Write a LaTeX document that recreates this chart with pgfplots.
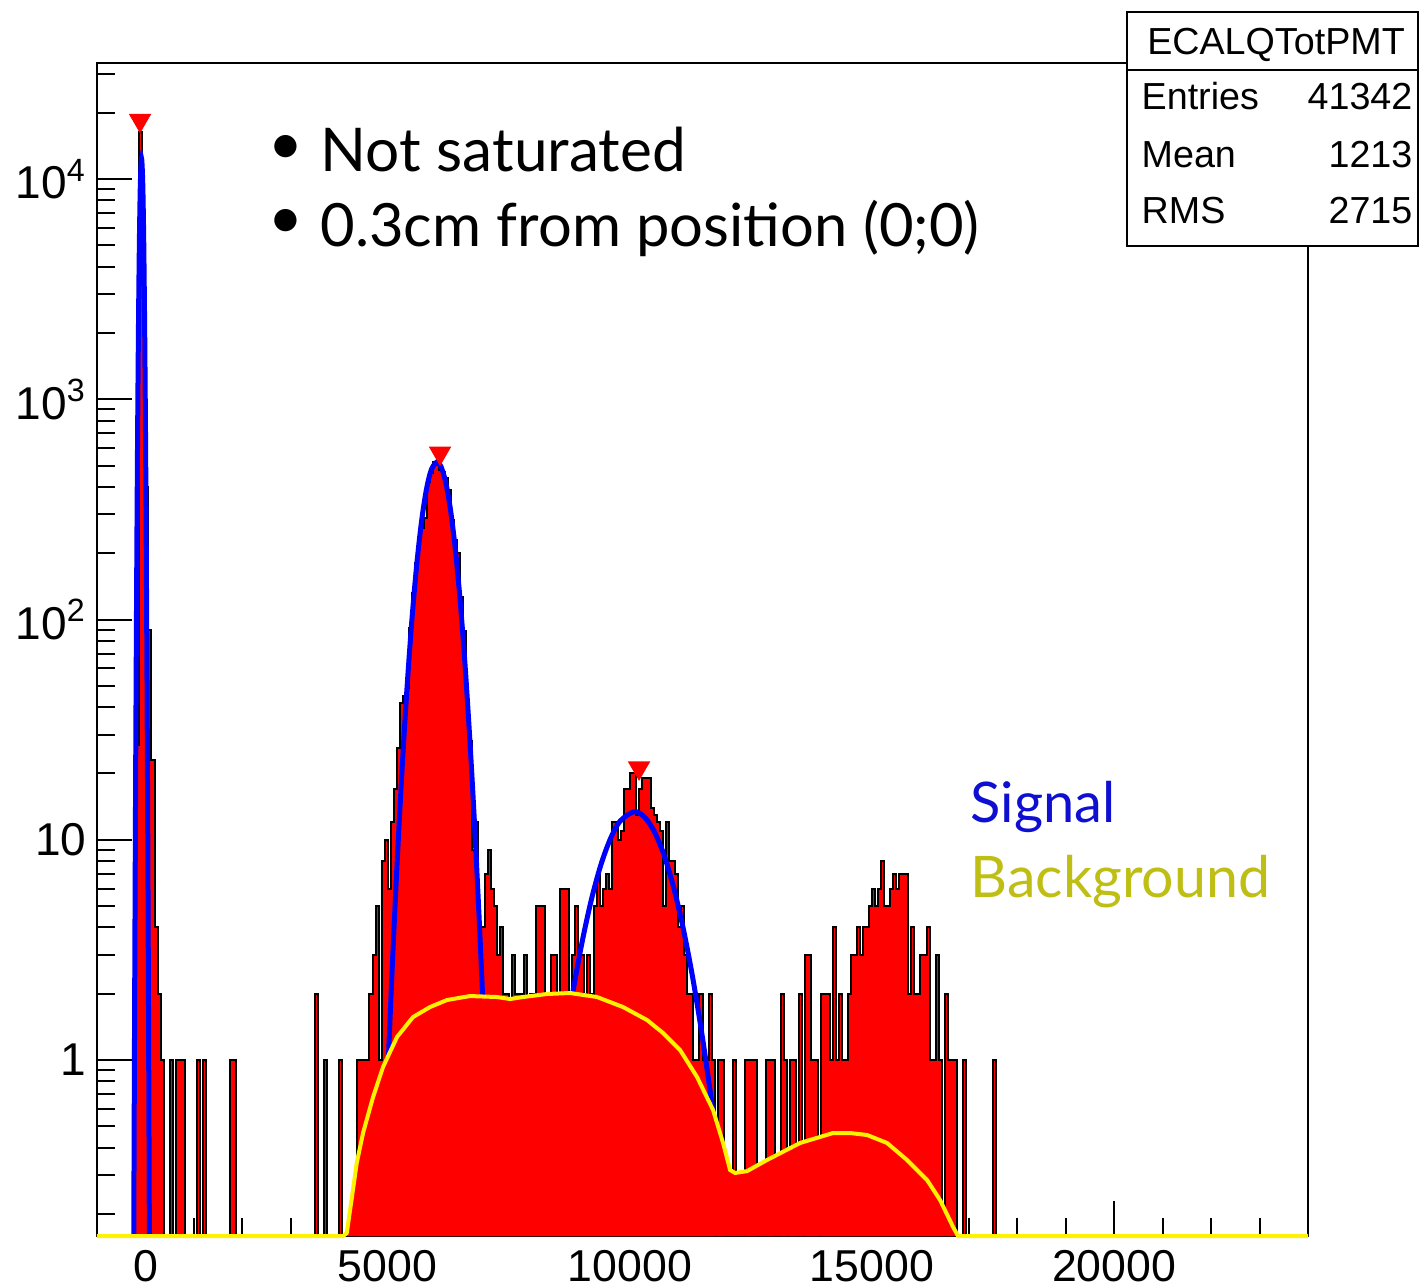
\documentclass[border=0pt]{standalone}
\usepackage{pgfplots}
\pgfplotsset{compat=1.18}
\usepackage{fontspec}
\setmainfont{Liberation Sans}
\newfontfamily\gill{Lato}
\definecolor{sigblue}{RGB}{15,15,210}
\definecolor{bkgolive}{RGB}{190,190,20}
\begin{document}
\begin{tikzpicture}
\begin{axis}[
 at={(29.1pt,-370.8pt)}, anchor=south west,
 scale only axis, width=363.3pt, height=351.9pt,
 xmin=-1000, xmax=24000, ymode=log, ymin=0.1588, ymax=33650,
 clip=false, scaled x ticks=false,
 axis line style={line width=0.6pt},
 tick pos=left, tick align=inside,
 xtick={0,5000,10000,15000,20000},
 xticklabels={0,5000,10000,15000,20000},
 minor xtick={1000,2000,3000,4000,6000,7000,8000,9000,11000,12000,13000,14000,16000,17000,18000,19000,21000,22000,23000},
 ytick={1,10,100,1000,10000},
 yticklabels={1,10,10\textsuperscript{2},10\textsuperscript{3},10\textsuperscript{4}},
 minor ytick={0.2,0.3,0.4,0.5,0.6,0.7,0.8,0.9,2,3,4,5,6,7,8,9,20,30,40,50,60,70,80,90,200,300,400,500,600,700,800,900,2000,3000,4000,5000,6000,7000,8000,9000,20000,30000},
 major tick length=10.5pt, minor tick length=5.3pt,
 every tick/.style={black, line width=0.6pt},
 tick label style={font=\fontsize{13.8}{16}\selectfont},
 xticklabel style={inner sep=0pt, yshift=-4pt, anchor=north, font=\fontsize{13.4}{15}\selectfont},
 yticklabel style={inner sep=0pt, xshift=-3pt, anchor=east},
]
% data histogram (bin width 62.5), zero bins at the axis minimum
\addplot[const plot, fill=red, draw=black, line width=0.6pt] coordinates {
(-1000,0.1588) (-250,1) (-187.5,27) (-125,16400) (-62.5,6500) (0,400) (62.5,90) (125,23) (187.5,4) (250,2) (312.5,1) (375,0.1588)
(500,1) (562.5,0.1588) (625,1) (812.5,0.1588) (1062.5,1) (1125,0.1588) (1187.5,1) (1250,0.1588) (1750,1) (1875,0.1588)
(3500,2) (3562.5,0.1588) (3687.5,1) (3750,0.1588) (4000,1) (4062.5,0.1588)
(4375,1) (4625,2) (4687.5,3) (4750,5) (4812.5,1) (4875,8) (4937.5,10) (5000,6) (5062.5,12) (5125,17) (5187.5,26)
(5250,42) (5312.5,45) (5375,49) (5437.5,92) (5500,132) (5562.5,180) (5625,237) (5687.5,260) (5750,289) (5812.5,422)
(5875,464) (5937.5,519) (6000,505) (6062.5,480) (6125,466) (6187.5,440) (6250,388) (6312.5,282) (6375,230) (6437.5,200)
(6500,126) (6562.5,89) (6625,41) (6687.5,28) (6750,9) (6812.5,12) (6875,4) (7000,7) (7062.5,9) (7125,6) (7187.5,5)
(7250,3) (7312.5,4) (7375,2) (7500,1) (7562.5,3) (7625,2) (7812.5,3) (7875,1) (7937.5,2) (8062.5,5) (8250,2) (8312.5,1)
(8375,3) (8500,2) (8562.5,6) (8750,2) (8812.5,3) (8875,5) (8937.5,3) (9062.5,2) (9125,3) (9187.5,2) (9250,5) (9312.5,7)
(9375,5) (9437.5,6) (9500,7) (9562.5,6) (9625,12) (9750,10) (9812.5,11) (9875,17) (10000,20) (10125,13) (10187.5,17)
(10250,19) (10437.5,14) (10500,13) (10562.5,12) (10625,11) (10687.5,5) (10750,12) (10812.5,8) (10937.5,7) (11000,4)
(11062.5,5) (11125,3) (11187.5,2) (11312.5,1) (11437.5,2) (11500,1) (11625,2) (11687.5,1) (11750,0.1588) (11812.5,1)
(11937.5,0.1588) (12125,1) (12187.5,0.1588) (12375,1) (12625,0.1588) (12812.5,1) (13000,0.1588) (13125,2) (13187.5,1)
(13250,0.1588) (13312.5,1) (13437.5,0.1588) (13500,2) (13562.5,0.1588) (13625,3) (13750,1) (13875,0.1588) (13937.5,2)
(14125,1) (14187.5,4) (14250,1) (14312.5,2) (14375,1) (14500,2) (14562.5,3) (14687.5,4) (14750,3) (14812.5,4) (14937.5,5)
(15000,6) (15062.5,5) (15125,6) (15187.5,8) (15250,5) (15375,6) (15437.5,7) (15500,6) (15562.5,7) (15750,2) (15812.5,4)
(15875,2) (16000,3) (16125,4) (16187.5,1) (16312.5,3) (16375,1) (16437.5,0.1588) (16500,2) (16562.5,1) (16750,0.1588)
(16875,1) (16937.5,0.1588) (17500,1) (17562.5,0.1588) (24000,0.1588)
};
% signal fits
\addplot[blue, line width=1.5pt, smooth] coordinates {
(-241,0.16) (-225,1.39) (-205,14.4) (-185,105) (-165,545) (-145,1996) (-125,5165) (-105,9465) (-80,12400)
(-55,9465) (-35,5165) (-15,1996) (5,545) (25,105) (45,14.4) (65,1.39) (81,0.16)
};
\addplot[blue, line width=1.5pt, smooth] coordinates {
(4900,0.221) (5000,0.835) (5100,2.79) (5200,8.2) (5300,21.3) (5400,48.9) (5500,99.1) (5600,177) (5700,279) (5800,389)
(5900,478) (6015,519) (6100,496) (6200,419) (6300,312.5) (6400,205.7) (6500,119.5) (6600,61.3) (6700,27.7) (6800,11.1)
(6900,3.90) (7000,1.216) (7100,0.33)
};
\addplot[blue, line width=1.5pt, smooth] coordinates {
(8600,0.98) (8800,1.89) (9000,3.31) (9200,5.28) (9400,7.67) (9600,10.12) (9800,12.16) (10087,13.4) (10300,12.70)
(10500,10.95) (10700,8.59) (10900,6.13) (11100,3.98) (11300,2.35) (11500,1.26) (11700,0.617) (11900,0.27)
};
% background
\addplot[draw=yellow, fill=red, line width=1.2pt] coordinates {
(-1000,0.1588) (4079,0.1588) (4156,0.1638) (4260,0.236) (4362,0.3406) (4492,0.4661) (4699,0.679) (4905,0.9295)
(5194,1.272) (5524,1.567) (5875,1.740) (6226,1.873) (6701,1.952) (7258,1.932) (7527,1.892) (7795,1.932) (8290,1.994)
(8765,2.015) (9323,1.932) (9860,1.740) (10355,1.519) (10686,1.326) (11037,1.110) (11388,0.837) (11718,0.593)
(11925,0.420) (12069,0.3167) (12173,0.307) (12420,0.313) (12833,0.3516) (13514,0.420) (14195,0.4661) (14546,0.4661)
(14897,0.4565) (15310,0.420) (15723,0.3516) (16136,0.2852) (16404,0.2314) (16673,0.1745) (16776,0.1588) (24000,0.1588)
};
% peak markers
\addplot[only marks, mark=triangle*, mark size=3.5pt, mark options={rotate=180, fill=red, draw=red}] coordinates {
(-111,18480) (6082,570) (10190,21.2)
};
\end{axis}
\begin{scope}[x=0.3pt,y=-0.3pt]
\path[use as bounding box] (0,0) rectangle (1419,1287);
\node[inner sep=0pt, font=\gill\fontsize{18}{18}\selectfont] at (286,150) {\textbullet};
\node[inner sep=0pt, font=\gill\fontsize{18}{18}\selectfont] at (286,224) {\textbullet};
\node[anchor=base west, inner sep=0pt, font=\gill\fontsize{18.1}{20}\selectfont] at (320,172) {Not saturated};
\node[anchor=base west, inner sep=0pt, font=\gill\fontsize{17.9}{20}\selectfont] at (320,246) {0.3cm from position (0;0)};
\node[anchor=base west, inner sep=0pt, text=sigblue, font=\gill\fontsize{16.8}{20}\selectfont] at (970,822) {Signal};
\node[anchor=base west, inner sep=0pt, text=bkgolive, font=\gill\fontsize{17.2}{20}\selectfont] at (970,897) {Background};
\draw[line width=0.6pt, fill=white] (1127,12) rectangle (1418,246);
\draw[line width=0.6pt] (1127,70) -- (1418,70);
\node[anchor=base, inner sep=0pt, font=\fontsize{11.3}{13}\selectfont] at (1276,55) {ECALQTotPMT};
\node[anchor=base west, inner sep=0pt, font=\fontsize{11.3}{13}\selectfont] at (1141,110) {Entries};
\node[anchor=base east, inner sep=0pt, font=\fontsize{11.3}{13}\selectfont] at (1413,110) {41342};
\node[anchor=base west, inner sep=0pt, font=\fontsize{11.3}{13}\selectfont] at (1141,167) {Mean};
\node[anchor=base east, inner sep=0pt, font=\fontsize{11.3}{13}\selectfont] at (1413,167) {1213};
\node[anchor=base west, inner sep=0pt, font=\fontsize{11.3}{13}\selectfont] at (1141,223) {RMS};
\node[anchor=base east, inner sep=0pt, font=\fontsize{11.3}{13}\selectfont] at (1413,223) {2715};
\end{scope}
\end{tikzpicture}
\end{document}
